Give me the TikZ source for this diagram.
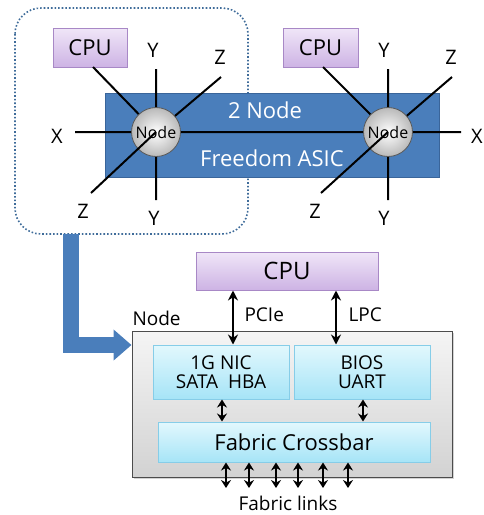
\documentclass[tikz,border=0pt]{standalone}
\usepackage{fontspec}
\setmainfont{Open Sans}
\usetikzlibrary{arrows.meta,shadows}
\definecolor{asicblue}{HTML}{4A7EBB}
\definecolor{asicedge}{HTML}{3A659A}
\definecolor{cputop}{HTML}{F0E6F8}
\definecolor{cpubot}{HTML}{CDB3E4}
\definecolor{cpuedge}{HTML}{A888C6}
\definecolor{cyantop}{HTML}{E2F8FD}
\definecolor{cyanbot}{HTML}{A6E4F7}
\definecolor{cyanedge}{HTML}{86CDE8}
\definecolor{dotblue}{HTML}{3F6C9A}
\tikzset{
  cpubox/.style={draw=cpuedge, line width=1pt, top color=cputop, bottom color=cpubot, inner sep=0pt},
  cyanbox/.style={draw=cyanedge, line width=1pt, top color=cyantop, bottom color=cyanbot, inner sep=0pt, align=center},
  nodeball/.style={circle, draw=gray!70!black, line width=0.8pt, minimum size=49pt, inner sep=0pt,
     shading=radial, inner color=white, outer color=gray!55},
  link/.style={line width=2pt, black},
  axis/.style={font=\fontsize{20}{20}\selectfont},
  dbl/.style={{Stealth[length=10pt,width=10pt]}-{Stealth[length=10pt,width=10pt]}, line width=1.8pt},
  sdbl/.style={{Stealth[length=8pt,width=10pt]}-{Stealth[length=8pt,width=10pt]}, line width=2.6pt},
  lbl/.style={font=\fontsize{19}{19}\selectfont}
}
\begin{document}
\begin{tikzpicture}[x=1pt,y=-1pt]
\useasboundingbox (0,0) rectangle (484,515);
% dotted region
\draw[dotblue, line width=1.6pt, dotted, rounded corners=26pt] (15,8) rectangle (248,234);
% ASIC rect
\node[draw=asicedge, fill=asicblue, line width=1pt, minimum width=334pt, minimum height=84pt, inner sep=0pt] (asic) at (272,135) {};
\node[text=white, font=\fontsize{22}{22}\selectfont] (asict) at (265,110) {2 Node};
\node[text=white, font=\fontsize{22}{22}\selectfont] (asicb) at (272,158) {Freedom ASIC};
% nodes
\coordinate (n1) at (156,132);
\coordinate (n2) at (388,132);
\node[cpubox, minimum width=74pt, minimum height=39pt, font=\fontsize{22}{22}\selectfont] (cpu1) at (90,47.5) {CPU};
\node[cpubox, minimum width=75pt, minimum height=39pt, font=\fontsize{22}{22}\selectfont] (cpu2) at (320.5,47.5) {CPU};
\coordinate (c1) at (93,67);
\coordinate (y1u) at (156,69);
\coordinate (z1u) at (221,77);
\coordinate (x1) at (75,132);
\coordinate (z1d) at (91,193);
\coordinate (y1d) at (156,200);
\coordinate (c2) at (323,67);
\coordinate (y2u) at (388,69);
\coordinate (z2u) at (452,77);
\coordinate (x2) at (461,132);
\coordinate (z2d) at (321,193);
\coordinate (y2d) at (388,200);
\draw[link] (c1) -- (n1) (y1u) -- (n1) (z1u) -- (n1) (x1) -- (n1) (y1d) -- (n1) (n1) -- (n2);
\draw[link] (c2) -- (n2) (y2u) -- (n2) (z2u) -- (n2) (x2) -- (n2) (y2d) -- (n2);
\node[nodeball] (ball1) at (n1) {};
\node[nodeball] (ball2) at (n2) {};
\draw[link] (n1) -- (z1d);
\draw[link] (n2) -- (z2d);
\node[font=\fontsize{16}{16}\selectfont, inner sep=0pt] (nt1) at (n1) {Node};
\node[font=\fontsize{16}{16}\selectfont, inner sep=0pt] (nt2) at (n2) {Node};
% axis labels
\node[axis] (ly1u) at (153,50) {Y};
\node[axis] (lz1u) at (220,57) {Z};
\node[axis] (lx1) at (57,136) {X};
\node[axis] (lz1d) at (83,211) {Z};
\node[axis] (ly1d) at (154,218) {Y};
\node[axis] (ly2u) at (384,50) {Y};
\node[axis] (lz2u) at (451,57) {Z};
\node[axis] (lx2) at (477,136) {X};
\node[axis] (lz2d) at (315,211) {Z};
\node[axis] (ly2d) at (384,218) {Y};
% lower part
\node[draw=gray!60!black, line width=1pt, top color=gray!8, bottom color=gray!35, minimum width=320pt, minimum height=146pt, inner sep=0pt,
  drop shadow={shadow xshift=1.5pt, shadow yshift=-1.5pt, opacity=0.35}] (nodebox) at (292,404) {};
\node[lbl, anchor=west] (nodelbl) at (129,318) {Node};
\node[cpubox, minimum width=182pt, minimum height=38pt, font=\fontsize{24}{24}\selectfont] (cpu3) at (287,271) {CPU};
\node[cyanbox, minimum width=136pt, minimum height=54pt, font=\fontsize{19}{21}\selectfont] (nic) at (221,372) {1G NIC\\[-2pt]SATA\ \ HBA};
\node[cyanbox, minimum width=136pt, minimum height=54pt, font=\fontsize{19}{21}\selectfont] (bios) at (362,372) {BIOS\\[-2pt]UART};
\node[cyanbox, minimum width=272pt, minimum height=40pt, font=\fontsize{22}{22}\selectfont] (fab) at (294,442) {Fabric Crossbar};
\draw[dbl] (cpu3.south -| 233,0) -- (nic.north -| 233,0);
\draw[dbl] (cpu3.south -| 336,0) -- (bios.north -| 336,0);
\node[lbl, anchor=west] (pcie) at (241,315) {PCIe};
\node[lbl, anchor=west] (lpc) at (345,315) {LPC};
\draw[sdbl] (nic.south -| 222,0) -- (fab.north -| 222,0);
\draw[sdbl] (bios.south -| 363,0) -- (fab.north -| 363,0);
\node[lbl, anchor=base, inner sep=0pt] (links) at (288,510) {Fabric links};
\foreach \xx/\nm in {226/a,249/b,276/c,298/d,323/e,348/f}{
  \coordinate (fl\nm) at (\xx,488);
  \draw[sdbl] (fab.south -| fl\nm) -- (fl\nm);
}
% big arrow
\coordinate (ba) at (71,234);
\coordinate (bb) at (71,345);
\draw[asicblue, line width=16pt, -{Triangle[length=18pt,width=30pt]}] (ba) -- (bb) -- (nodebox.west |- bb);
\end{tikzpicture}
\end{document}
